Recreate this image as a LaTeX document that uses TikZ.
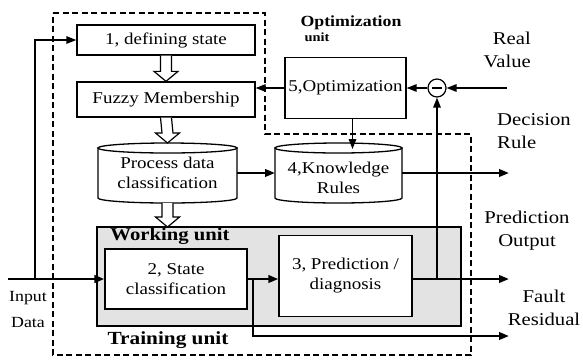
\documentclass[tikz,border=0pt]{standalone}
\usepackage{fontspec}
\setmainfont[FakeStretch=1.15]{Liberation Serif}
\usetikzlibrary{arrows.meta,calc}

\tikzset{
 boxn/.style={draw, line width=1.3pt, fill=white, align=center, font=\fontsize{16.5}{20}\selectfont, inner sep=1pt},
 txt/.style={align=center, font=\fontsize{16.5}{20}\selectfont, inner sep=0pt},
 lab/.style={font=\fontsize{18}{23}\selectfont, inner sep=0pt},
 ttl/.style={font=\bfseries\fontsize{18}{22}\selectfont, inner sep=0pt},
 tip/.style={-{Triangle[length=10pt,width=7.5pt]}},
 heavy/.style={line width=2.8pt},
 med/.style={line width=2.2pt},
 light/.style={line width=1.4pt},
 cyl/.style={draw, line width=1.3pt, fill=white},
 hollow/.style={draw, line width=1.2pt, fill=white, line join=miter},
 frame/.style={line width=2pt, dash pattern=on 6pt off 3.5pt},
 ghost/.style={inner sep=0pt, outer sep=0pt},
}

\newcommand\hollowdown[2]{%
 \draw[hollow] ($(#1)+(-5.5,0)$) -- ($(#2)+(-5.5,-10)$) -- ($(#2)+(-12,-10)$) -- (#2)
   -- ($(#2)+(12,-10)$) -- ($(#2)+(5.5,-10)$) -- ($(#1)+(5.5,0)$);}
\newcommand\cylshape[2]{%
 \draw[cyl] ($(#1.north west)+(0,5)$) -- ($(#1.south west)+(0,-5)$)
   arc[start angle=180,end angle=0,x radius=#2,y radius=5]
   -- ($(#1.north east)+(0,5)$) -- cycle;
 \draw[cyl] ($(#1.north)+(0,5)$) ellipse [x radius=#2, y radius=5];}

\begin{document}
\begin{tikzpicture}[x=1pt,y=-1pt]
\useasboundingbox (0,0) rectangle (583,360);

% training unit frame
\draw[frame] (53,13) -- (265,13) -- (265,134) -- (471,134) -- (471,355) -- (53,355) -- cycle;

% working unit
\node[ghost, draw, line width=1.2pt, fill=gray!22, minimum width=364pt, minimum height=99pt] (work) at (279,276.5) {};
\node[ttl] (worklab) at (170,236) {Working unit};
\node[ttl, font=\bfseries\fontsize{18.5}{22}\selectfont] (trainlab) at (168,340) {Training unit};
\node[ttl, font=\bfseries\fontsize{15.5}{18}\selectfont] (optlab) at (351,23) {Optimization};
\node[ttl, font=\bfseries\fontsize{12.5}{14}\selectfont] (optlab2) at (317,37) {unit};

% boxes
\node[boxn, minimum width=178pt, minimum height=30pt] (n1) at (166,40) {1, defining state};
\node[boxn, minimum width=178pt, minimum height=35pt] (fuzzy) at (166,99.5) {Fuzzy Membership};
\node[boxn, minimum width=121pt, minimum height=61pt] (opt) at (345.5,88) {5,Optimization};
\node[boxn, minimum width=142pt, minimum height=60pt] (state) at (176,279) {2, State\\classification};
\node[boxn, minimum width=133pt, minimum height=81pt] (pred) at (345.5,276) {3, Prediction /\\diagnosis};

% cylinders
\node[ghost, minimum width=139pt, minimum height=60pt] (proc) at (167.5,173) {};
\cylshape{proc}{69.5}
\node[txt] (proctxt) at (proc) {Process data\\classification};
\node[ghost, minimum width=127pt, minimum height=60pt] (know) at (338.5,173) {};
\cylshape{know}{63.5}
\node[txt] (knowtxt) at ($(know)+(0,5)$) {4,Knowledge\\Rules};

% minus junction
\node[circle, draw, line width=1.2pt, fill=white, minimum size=18pt, inner sep=0pt] (minus) at (437,88) {};
\draw[line width=1.3pt] ($(minus.center)+(-5,0)$) -- ($(minus.center)+(5,0)$);

% hollow arrows
\coordinate (h3e) at (proc.south |- work.north);
\hollowdown{n1.south}{fuzzy.north}
\hollowdown{fuzzy.south}{proc.north}
\hollowdown{proc.south}{h3e}

% side labels
\node[lab, align=right, anchor=east] (real) at (531,49.5) {Real\\Value};
\node[lab, align=left, anchor=west] (dec) at (497,131.5) {Decision\\Rule};
\node[lab, align=center] (po) at (527,230.5) {Prediction\\Output};
\node[lab, align=center] (fr) at (544,308) {Fault\\Residual};
\node[txt, font=\fontsize{15.5}{26}\selectfont] (indata) at (28,309) {Input\\Data};

% coordinates
\coordinate (inL) at (8,279);
\coordinate (jin) at (35,279);
\coordinate (fj) at (253,279);
\coordinate (vj) at (437,279);
\coordinate (poEnd) at (509,279);
\coordinate (frEnd) at (509,336);
\coordinate (drEnd) at (509,173);
\coordinate (rvStart) at (507,88);
\coordinate (ok1) at ([xshift=7pt]opt.south);
\coordinate (ok2) at (ok1 |- know.north);

% connectors
\draw[heavy, tip] (inL) -- (state.west);
\draw[light, tip] (jin) |- (n1.west);
\draw[med, tip] (state.east) -- (state.east -| pred.west);
\draw[med, tip] (fj) |- (frEnd);
\draw[med, tip] (state.east -| pred.east) -- (poEnd);
\draw[light, tip] (vj) -- (minus.south);
\draw[light, tip] (rvStart) -- (minus.east);
\draw[light, tip] (minus.west) -- (minus.west -| opt.east);
\draw[light, tip] (opt.west) -- (opt.west -| fuzzy.east);
\draw[light, tip] (ok1) -- ($(ok2)+(0,6)$);
\draw[med, tip] (proc.east) -- (know.west);
\draw[med, tip] (know.east) -- (drEnd);
\end{tikzpicture}
\end{document}
